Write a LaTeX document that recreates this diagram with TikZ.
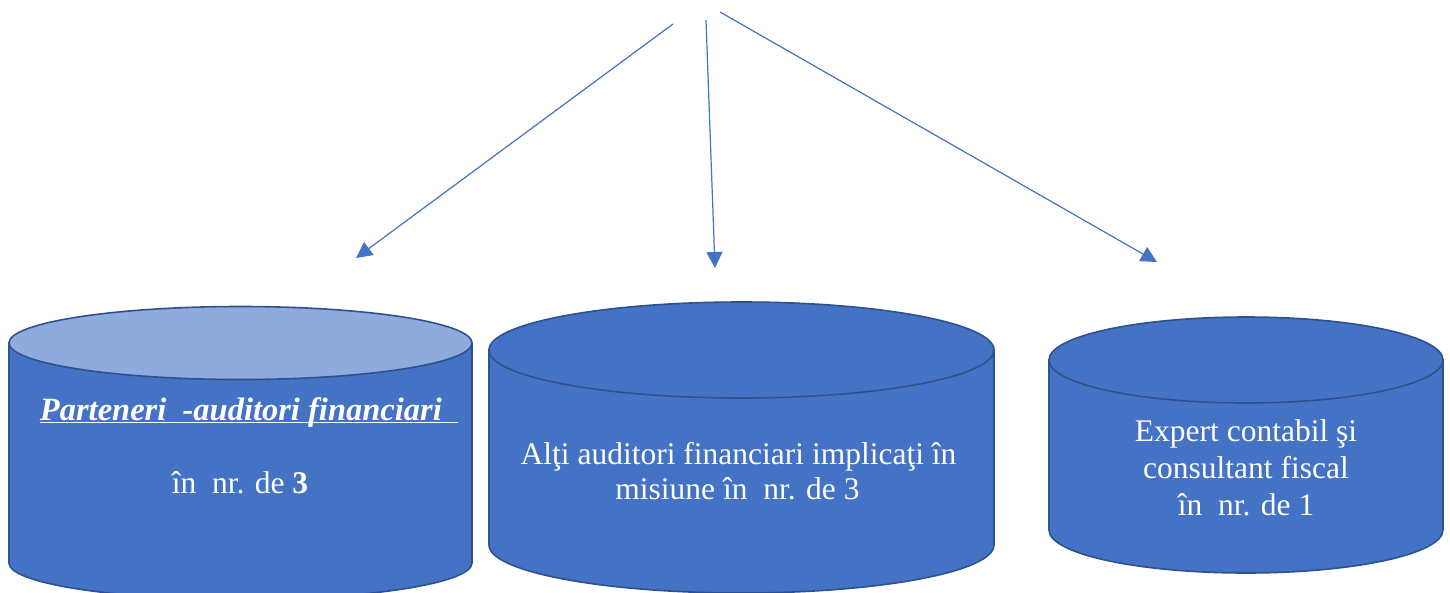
\documentclass[tikz,border=0pt]{standalone}
\usepackage{fontspec}
\setmainfont{Liberation Serif}
\usetikzlibrary{arrows.meta}
\definecolor{bodyblue}{HTML}{4472C4}
\definecolor{edgeblue}{HTML}{2F528F}
\definecolor{lightblue}{HTML}{8FAADC}
\newcommand\myul[1]{{\setbox0\hbox{#1}\rlap{\rule[-3pt]{\wd0}{1.5pt}}\box0}}
\tikzset{
  cylbody/.style={fill=bodyblue, draw=edgeblue, line width=1.6pt},
  cyltop/.style={fill=bodyblue, draw=edgeblue, line width=1.6pt},
  cyltoplight/.style={fill=lightblue, draw=edgeblue, line width=1.6pt},
  lbl/.style={text=white, inner sep=0pt, anchor=base, font=\fontsize{31.5}{36}\selectfont},
  conn/.style={draw=bodyblue, line width=1.2pt, -{Triangle[length=16pt,width=16pt]}},
}
\begin{document}
\begin{tikzpicture}[x=1pt,y=-1pt]
\useasboundingbox (0,0) rectangle (1450,592);
\clip (0,0) rectangle (1450,592);
% left cylinder
\draw[cylbody] (9,343) -- (9,563) arc[start angle=180, end angle=0, x radius=231.5, y radius=36.5] -- (472,343) -- cycle;
\draw[cyltoplight] (240.5,343) ellipse[x radius=231.5, y radius=36.5];
% middle cylinder
\draw[cylbody] (489,350) -- (489,545) arc[start angle=180, end angle=0, x radius=252.5, y radius=48] -- (994,350) -- cycle;
\draw[cyltop] (741.5,350) ellipse[x radius=252.5, y radius=48];
% right cylinder
\draw[cylbody] (1049,360) -- (1049,530) arc[start angle=180, end angle=0, x radius=197, y radius=43] -- (1443,360) -- cycle;
\draw[cyltop] (1246,360) ellipse[x radius=197, y radius=43];
% texts
\node[lbl, font=\fontsize{32.5}{36}\selectfont] (l1) at (249,420) {\myul{\textbf{\textit{Parteneri\ \ -auditori financiari\ \ }}}};
\node[lbl] (l2) at (240,493) {în\ \ nr. de \textbf{3}};
\node[lbl] (m1) at (738.5,464) {Alţi auditori financiari implicaţi în};
\node[lbl] (m2) at (737.5,499) {misiune în\ \ nr. de 3};
\node[lbl] (r1) at (1246,441) {Expert contabil şi};
\node[lbl] (r2) at (1246,478) {consultant fiscal};
\node[lbl] (r3) at (1246,515) {în\ \ nr. de 1};
% arrows
\coordinate (s1) at (673,24);
\coordinate (e1) at (356,258);
\coordinate (s2) at (706,20);
\coordinate (e2) at (715,268);
\coordinate (s3) at (720,12);
\coordinate (e3) at (1157,262);
\draw[conn] (s1) -- (e1);
\draw[conn] (s2) -- (e2);
\draw[conn] (s3) -- (e3);
\end{tikzpicture}
\end{document}
